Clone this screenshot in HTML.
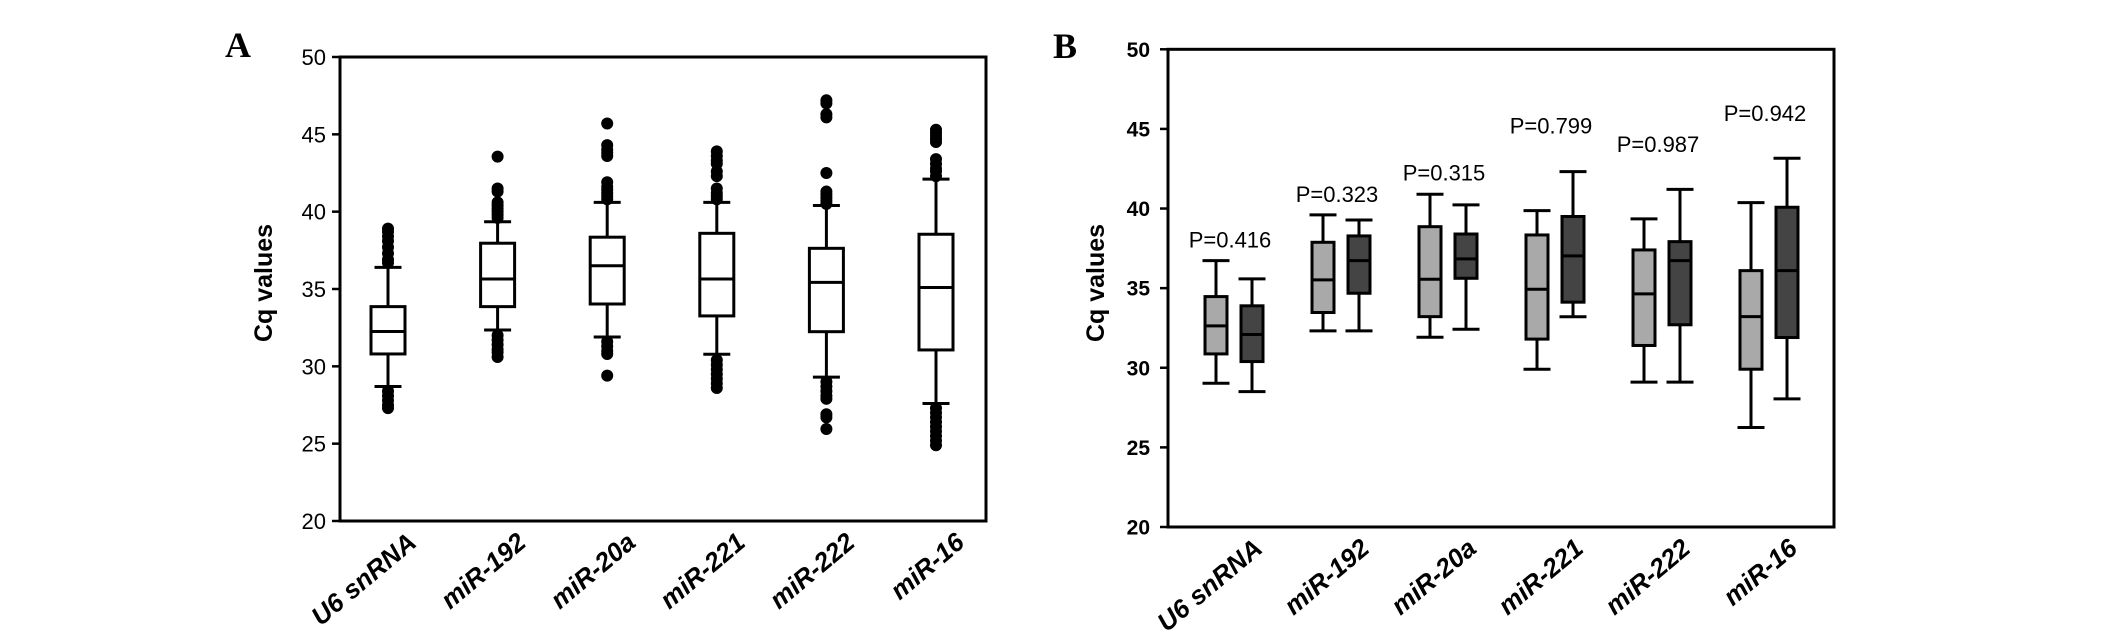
<!DOCTYPE html>
<html><head><meta charset="utf-8"><style>
html,body{margin:0;padding:0;background:#fff;}
svg{display:block;}
</style></head><body>
<svg id="fig" width="2126" height="643" viewBox="0 0 2126 643" xmlns="http://www.w3.org/2000/svg">
<g id="panelA"></g>
<g id="panelB"></g>
</svg>
<script>
const categories = ["U6 snRNA","miR-192","miR-20a","miR-221","miR-222","miR-16"];
const yTicks = [20,25,30,35,40,45,50];
// Panel A: [whiskerLow, q1, median, q3, whiskerHigh]
const aStats = [
 [28.7,30.8,32.25,33.86,36.4],
 [32.35,33.86,35.65,37.96,39.35],
 [31.9,34.03,36.5,38.35,40.6],
 [30.78,33.26,35.65,38.6,40.6],
 [29.3,32.24,35.43,37.63,40.4],
 [27.6,31.06,35.1,38.54,42.1]
];
const aOutliersHigh = [
 [36.7,36.9,37.3,37.7,38.1,38.4,38.7,38.9],
 [39.6,39.8,40.0,40.2,40.4,40.6,41.3,41.5,43.56],
 [40.8,41.0,41.2,41.4,41.6,41.9,43.6,43.8,44.0,44.3,45.7],
 [40.8,41.0,41.2,41.5,42.3,42.6,43.1,43.3,43.6,43.9],
 [40.5,40.7,40.9,41.1,41.3,42.5,46.1,46.3,47.0,47.2],
 [42.3,42.6,42.8,43.1,43.4,44.5,44.7,44.9,45.1,45.3]
];
const aOutliersLow = [
 [28.4,28.1,27.8,27.5,27.3],
 [32.0,31.7,31.4,31.1,30.9,30.6],
 [31.6,31.3,31.0,30.8,29.4],
 [30.4,30.1,29.8,29.5,29.2,28.9,28.6],
 [29.0,28.7,28.4,28.1,27.9,26.9,26.7,25.95],
 [27.3,27.0,26.7,26.4,26.1,25.8,25.5,25.2,24.9]
];
// Panel B: group 1 (light) and group 2 (dark)
const bLight = [
 [29.03,30.87,32.63,34.47,36.73],
 [32.32,33.47,35.52,37.88,39.6],
 [31.92,33.21,35.56,38.86,40.9],
 [29.91,31.8,34.93,38.34,39.87],
 [29.1,31.4,34.64,37.4,39.35],
 [26.25,29.91,33.21,36.1,40.37]
];
const bDark = [
 [28.5,30.39,32.09,33.89,35.58],
 [32.32,34.68,36.73,38.28,39.28],
 [32.42,35.62,36.84,38.4,40.23],
 [33.2,34.12,37.03,39.5,42.32],
 [29.1,32.7,36.73,37.92,41.2],
 [28.05,31.9,36.1,40.08,43.16]
];
const pLabels = ["P=0.416","P=0.323","P=0.315","P=0.799","P=0.987","P=0.942"];
const pValuesY = [38.07,40.9,42.25,45.2,44.05,46.0];

const NS="http://www.w3.org/2000/svg";
function mk(parent,tag,attrs,text){const e=document.createElementNS(NS,tag);for(const k in attrs)e.setAttribute(k,attrs[k]);if(text!==undefined)e.textContent=text;parent.appendChild(e);return e;}

function drawPanel(g,cfg){
 const yS=v=>cfg.top+(50-v)*(cfg.bottom-cfg.top)/30;
 const xS=i=>cfg.c0+i*cfg.step;
 const frame=mk(g,'rect',{x:cfg.left,y:cfg.top,width:cfg.right-cfg.left,height:cfg.bottom-cfg.top,fill:'none',stroke:'#000','stroke-width':3});
 
 
 yTicks.forEach(t=>{
  const tk=mk(g,'line',{x1:cfg.left-8,x2:cfg.left,y1:yS(t),y2:yS(t),stroke:'#000','stroke-width':2.5});
  
  
  const tl=mk(g,'text',{x:cfg.left-cfg.tickGap,y:yS(t)+cfg.tickFont*0.36,'text-anchor':'end','font-family':cfg.tickFamily,'font-size':cfg.tickFont,'font-weight':cfg.tickWeight,fill:'#000'},String(t));
  
  
 });
 const yt=mk(g,'text',{x:0,y:0,transform:`translate(${cfg.titleX},${cfg.titleY}) rotate(-90)`,'text-anchor':'middle','font-family':'"Liberation Sans",sans-serif','font-size':25,'font-weight':'bold',fill:'#000'},'Cq values');
 
 
 categories.forEach((c,i)=>{
  const ax=xS(i)+30, ay=cfg.bottom+24;
  const xl=mk(g,'text',{x:0,y:0,transform:`translate(${ax},${ay}) rotate(-40)`,'text-anchor':'end','font-family':'"Liberation Sans",sans-serif','font-size':26,'font-weight':'bold','font-style':'italic',fill:'#000'},c);
  
  
 });
 const pl=mk(g,'text',{x:cfg.letterX,y:cfg.letterY,'font-family':'"Liberation Serif",serif','font-size':36,'font-weight':'bold',fill:'#000'},cfg.letter);
 
 
 return {xS,yS};
}

function box(g,cx,s,yS,bw,cw,fill,name){
 const grp=mk(g,'g',{});
 
 
 const st={stroke:'#000','stroke-width':3};
 mk(grp,'line',Object.assign({x1:cx,x2:cx,y1:yS(s[4]),y2:yS(s[0])},st));
 mk(grp,'line',Object.assign({x1:cx-cw/2,x2:cx+cw/2,y1:yS(s[4]),y2:yS(s[4])},st));
 mk(grp,'line',Object.assign({x1:cx-cw/2,x2:cx+cw/2,y1:yS(s[0]),y2:yS(s[0])},st));
 mk(grp,'rect',Object.assign({x:cx-bw/2,y:yS(s[3]),width:bw,height:yS(s[1])-yS(s[3]),fill:fill},st));
 mk(grp,'line',Object.assign({x1:cx-bw/2,x2:cx+bw/2,y1:yS(s[2]),y2:yS(s[2])},st));
 return grp;
}

// Panel A
const gA=document.getElementById('panelA');
const A=drawPanel(gA,{left:340,right:986,top:57,bottom:521,c0:388,step:109.6,tickGap:14,tickFont:22,tickWeight:'normal',tickFamily:'"Liberation Sans Narrow","Liberation Sans",sans-serif',titleX:272,titleY:283,letter:'A',letterX:225,letterY:57});
aStats.forEach((s,i)=>{
 const cx=A.xS(i);
 const grp=box(gA,cx,s,A.yS,34,27,'#fff','box-a-'+i);
 aOutliersHigh[i].concat(aOutliersLow[i]).forEach(v=>{
  const d=mk(grp,'circle',{cx:cx,cy:A.yS(v),r:6,fill:'#000'});
  
  
 });
});

// Panel B
const gB=document.getElementById('panelB');
const B=drawPanel(gB,{left:1168,right:1834,top:49.3,bottom:527,c0:1234,step:107,tickGap:18,tickFont:21,tickWeight:'bold',tickFamily:'"Liberation Sans",sans-serif',titleX:1104,titleY:283,letter:'B',letterX:1053,letterY:58});
categories.forEach((c,i)=>{
 const cx=B.xS(i);
 box(gB,cx-18,bLight[i],B.yS,22,27,'#a9a9a9','box-b-light-'+i);
 box(gB,cx+18,bDark[i],B.yS,22,27,'#444444','box-b-dark-'+i);
 const pt=mk(gB,'text',{x:cx-4,y:B.yS(pValuesY[i])+8,'text-anchor':'middle','font-family':'"Liberation Sans Narrow","Liberation Sans",sans-serif','font-size':22,fill:'#000'},pLabels[i]);
 
 
});
</script>
</body></html>
